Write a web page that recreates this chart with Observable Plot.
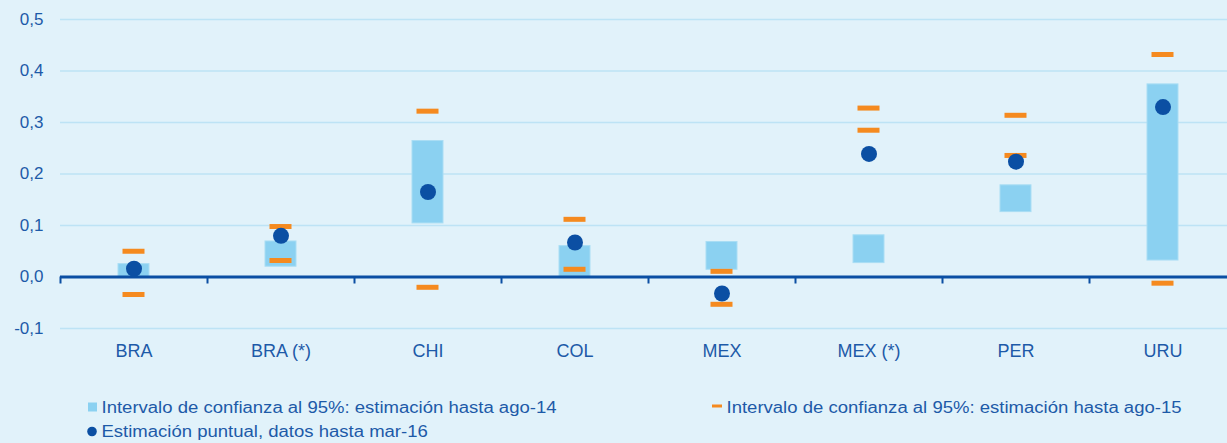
<!DOCTYPE html>
<html>
<head>
<meta charset="utf-8">
<script src="https://cdn.jsdelivr.net/npm/d3@7"></script>
<script src="https://cdn.jsdelivr.net/npm/@observablehq/plot@0.6"></script>
<style>
  html, body { margin: 0; padding: 0; background: #e1f2fa; }
  #chart { width: 1227px; height: 443px; overflow: hidden; background: #e1f2fa; font-family: "Liberation Sans", Arial, sans-serif; }
  svg { display: block; }
</style>
</head>
<body>
<div id="chart"></div>
<script>
// ---- data ----
const categories = ["BRA", "BRA (*)", "CHI", "COL", "MEX", "MEX (*)", "PER", "URU"];
// 95% interval, estimation up to ago-14 (bars)
const ci14Low  = [0.000, 0.020, 0.104, 0.000, 0.014, 0.027, 0.126, 0.032];
const ci14High = [0.025, 0.069, 0.264, 0.060, 0.068, 0.081, 0.178, 0.374];
// 95% interval, estimation up to ago-15 (orange dashes)
const ci15Low  = [-0.034, 0.032, -0.020, 0.015, -0.053, 0.285, 0.236, -0.012];
const ci15High = [0.050, 0.098, 0.322, 0.112, 0.011, 0.328, 0.314, 0.432];
// point estimate, data up to mar-16
const pointEst = [0.016, 0.080, 0.165, 0.067, -0.032, 0.239, 0.224, 0.330];
const yTicks = [-0.1, 0, 0.1, 0.2, 0.3, 0.4, 0.5];
const legendLabels = [
  "Intervalo de confianza al 95%: estimación hasta ago-14",
  "Intervalo de confianza al 95%: estimación hasta ago-15",
  "Estimación puntual, datos hasta mar-16"
];

// ---- tables ----
const rows = categories.map((c, i) => ({
  cat: c, lo14: ci14Low[i], hi14: ci14High[i], lo15: ci15Low[i], hi15: ci15High[i], pt: pointEst[i]
}));
const dashes = rows.flatMap(r => [{cat: r.cat, v: r.lo15}, {cat: r.cat, v: r.hi15}]);

const textColor = "#1d5aa8";
const darkBlue = "#0b4fa3";
const lightBar = "#8bd1f1";
const orange = "#f58a1f";
const gridColor = "#bde3f5";

const bandStart = 59.5, bandW = 147;
const xRange = [bandStart, bandStart + bandW * categories.length];

const plot = Plot.plot({
  width: 1227,
  height: 385,
  marginLeft: 60,
  marginRight: 0,
  marginTop: 19,
  marginBottom: 57,
  style: { background: "transparent", fontFamily: "'Liberation Sans', Arial, sans-serif", overflow: "visible" },
  x: { domain: categories, range: xRange, padding: 0 },
  y: { domain: [-0.1, 0.5] },
  marks: [
    Plot.gridY(yTicks.filter(t => t !== 0), { stroke: gridColor, strokeOpacity: 1, strokeWidth: 1.5 }),
    Plot.barY(rows, { x: "cat", y1: "lo14", y2: "hi14", fill: lightBar, stroke: "#a9ddf4", strokeWidth: 1, insetLeft: 58, insetRight: 58 }),
    Plot.ruleY([0], { stroke: darkBlue, strokeWidth: 3 }),
    Plot.ruleX(categories, { x: d => d, y1: 0, y2: 0, dx: -bandW / 2, insetBottom: -7, stroke: darkBlue, strokeWidth: 2 }),
    Plot.tickY(dashes, { x: "cat", y: "v", stroke: orange, strokeWidth: 5, insetLeft: 62.5, insetRight: 62.5 }),
    Plot.dot(rows, { x: "cat", y: "pt", r: 8, fill: darkBlue, stroke: "none" }),
    Plot.axisY(yTicks, { tickSize: 0, tickPadding: 17, fontSize: 17, color: textColor, label: null,
      tickFormat: d => (d < 0 ? "-" : "") + Math.abs(d).toFixed(1).replace(".", ",") }),
    Plot.axisX({ tickSize: 0, tickPadding: 16, fontSize: 18, color: textColor, label: null })
  ]
});
document.getElementById("chart").appendChild(plot);

// ---- legend (below the plot svg) ----
const ns = "http://www.w3.org/2000/svg";
const leg = d3.select("#chart").append("svg").attr("xmlns", ns)
  .attr("width", 1227).attr("height", 58)
  .style("font-family", "'Liberation Sans', Arial, sans-serif");

leg.append("rect").attr("x", 88).attr("y", 17.5).attr("width", 9).attr("height", 9).attr("fill", lightBar);
const t1 = leg.append("text").attr("x", 101.5).attr("y", 27.5).attr("font-size", 16).attr("fill", textColor).text(legendLabels[0]);

leg.append("rect").attr("x", 712).attr("y", 19.5).attr("width", 10).attr("height", 3).attr("fill", orange);
const t2 = leg.append("text").attr("x", 726.5).attr("y", 27.5).attr("font-size", 16).attr("fill", textColor).text(legendLabels[1]);

leg.append("circle").attr("cx", 92).attr("cy", 46.5).attr("r", 4.8).attr("fill", darkBlue);
const t3 = leg.append("text").attr("x", 101.5).attr("y", 52).attr("font-size", 16).attr("fill", textColor).text(legendLabels[2]);

const stretch = 455 / t1.node().getComputedTextLength();
[t1, t2, t3].forEach(t => {
  const L = t.node().getComputedTextLength();
  t.attr("textLength", L * stretch).attr("lengthAdjust", "spacingAndGlyphs");
});
</script>
</body>
</html>
